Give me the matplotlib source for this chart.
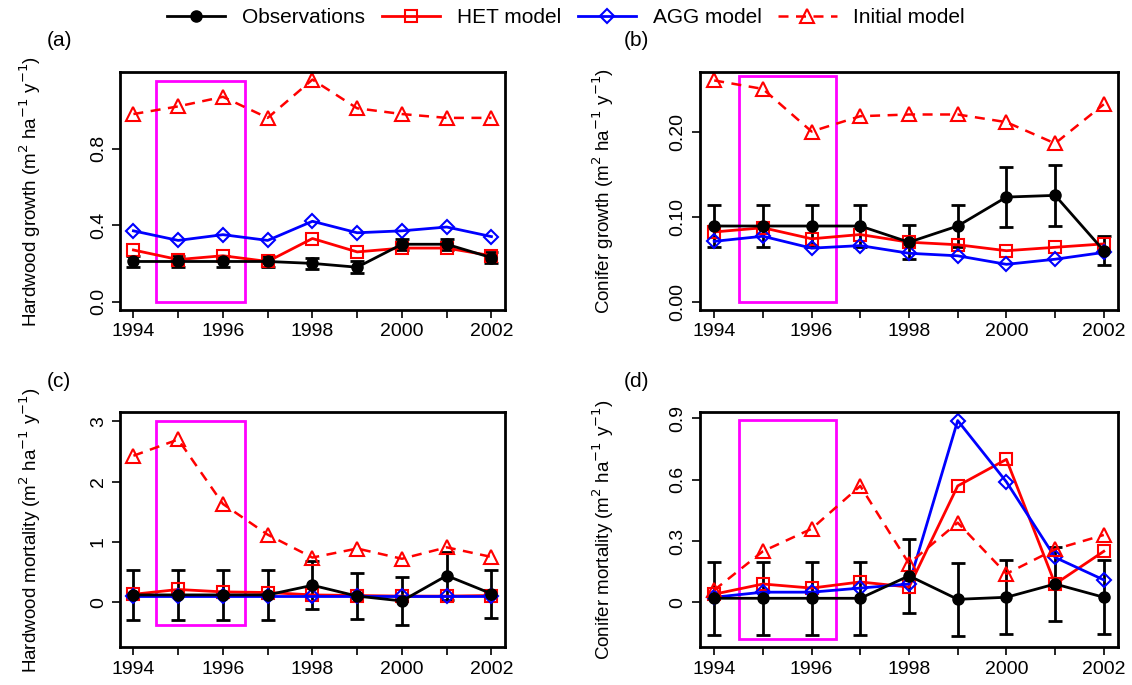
import matplotlib
matplotlib.use("Agg")
import matplotlib.pyplot as plt
from matplotlib.lines import Line2D

years = list(range(1994, 2003))
# (a) Hardwood growth
a_obs = [0.21,0.21,0.21,0.21,0.20,0.18,0.30,0.30,0.23]
a_err = [0.03]*9
a_het = [0.27,0.22,0.24,0.21,0.33,0.26,0.28,0.28,0.24]
a_agg = [0.37,0.32,0.35,0.32,0.42,0.36,0.37,0.39,0.34]
a_ini = [0.98,1.02,1.07,0.96,1.16,1.01,0.98,0.96,0.96]
# (b) Conifer growth
b_obs = [0.089,0.089,0.089,0.089,0.070,0.089,0.123,0.125,0.060]
b_err = [0.025,0.025,0.025,0.025,0.02,0.025,0.035,0.036,0.017]
b_het = [0.082,0.087,0.074,0.079,0.070,0.067,0.060,0.064,0.068]
b_agg = [0.071,0.077,0.063,0.066,0.057,0.054,0.044,0.050,0.058]
b_ini = [0.26,0.25,0.20,0.218,0.22,0.22,0.211,0.186,0.232]
# (c) Hardwood mortality
c_obs = [0.12,0.12,0.12,0.12,0.28,0.10,0.02,0.44,0.14]
c_err = [0.42,0.42,0.42,0.42,0.40,0.38,0.40,0.40,0.40]
c_het = [0.13,0.21,0.17,0.16,0.12,0.11,0.10,0.10,0.11]
c_agg = [0.10]*9
c_ini = [2.43,2.70,1.63,1.12,0.74,0.89,0.72,0.91,0.75]
# (d) Conifer mortality
d_obs = [0.02,0.02,0.02,0.02,0.13,0.015,0.025,0.09,0.025]
d_err = [0.18]*9
d_het = [0.04,0.09,0.07,0.10,0.075,0.57,0.70,0.09,0.25]
d_agg = [0.025,0.05,0.05,0.07,0.09,0.89,0.59,0.22,0.11]
d_ini = [0.06,0.25,0.36,0.57,0.19,0.39,0.14,0.26,0.33]

panels = [
    ("(a)", "Hardwood growth", a_obs, a_err, a_het, a_agg, a_ini, [0,0.4,0.8], ["0.0","0.4","0.8"], (-0.045,1.2), (0,1.15)),
    ("(b)", "Conifer growth", b_obs, b_err, b_het, b_agg, b_ini, [0,0.1,0.2], ["0.00","0.10","0.20"], (-0.01,0.27), (0,0.265)),
    ("(c)", "Hardwood mortality", c_obs, c_err, c_het, c_agg, c_ini, [0,1,2,3], ["0","1","2","3"], (-0.75,3.15), (-0.38,3.0)),
    ("(d)", "Conifer mortality", d_obs, d_err, d_het, d_agg, d_ini, [0,0.3,0.6,0.9], ["0","0.3","0.6","0.9"], (-0.22,0.93), (-0.18,0.895)),
]
pos = [(0.106,0.547,0.34,0.348),(0.618,0.547,0.37,0.348),(0.106,0.055,0.34,0.343),(0.618,0.055,0.37,0.343)]

plt.rcParams['font.family'] = ['Liberation Sans','DejaVu Sans']
fig = plt.figure(figsize=(11.32,6.85), dpi=100)
for (lab, name, obs, err, het, agg, ini, yt, ytl, ylim, rect), p in zip(panels, pos):
    ax = fig.add_axes(p)
    ax.errorbar(years, obs, yerr=err, color='black', marker='o', ms=8, lw=2, capsize=5, capthick=2, elinewidth=2)
    ax.plot(years, het, color='red', marker='s', mfc='none', ms=8, mew=1.5, lw=2)
    ax.plot(years, agg, color='blue', marker='D', mfc='none', ms=7, mew=1.5, lw=2)
    ax.plot(years, ini, color='red', marker='^', mfc='none', ms=10, mew=1.5, lw=1.8, ls=(0,(4,3)))
    ax.add_patch(plt.Rectangle((1994.5, rect[0]), 2.0, rect[1]-rect[0], fill=False, ec='magenta', lw=2))
    ax.set_xlim(1993.7, 2002.3)
    ax.set_ylim(*ylim)
    ax.set_xticks(years)
    ax.set_xticklabels([str(y) if y % 2 == 0 else "" for y in years], fontsize=14)
    ax.set_yticks(yt)
    ax.set_yticklabels(ytl, fontsize=14, rotation=90, va='center')
    ax.tick_params(width=1.2, length=6)
    for s in ax.spines.values():
        s.set_linewidth(2)
    ax.set_ylabel(name + r" (m$^{2}$ ha$^{-1}$ y$^{-1}$)", fontsize=13.5)
    ax.yaxis.set_label_coords(-0.2 if p[0] < 0.5 else -0.2, 0.5)
    ax.text(-0.19 if p[0] < 0.5 else -0.18, 1.11, lab, transform=ax.transAxes, fontsize=15)

handles = [Line2D([], [], color='black', marker='o', ms=8, lw=2),
           Line2D([], [], color='red', marker='s', mfc='none', ms=8, mew=1.5, lw=2),
           Line2D([], [], color='blue', marker='D', mfc='none', ms=7, mew=1.5, lw=2),
           Line2D([], [], color='red', marker='^', mfc='none', ms=10, mew=1.5, lw=1.8, ls=(0,(4,3)))]
fig.legend(handles, ["Observations","HET model","AGG model","Initial model"], loc='upper center',
           ncol=4, frameon=False, fontsize=15, bbox_to_anchor=(0.5,1.015), columnspacing=0.8, handlelength=2.8)
fig.savefig("out.png", dpi=100)
